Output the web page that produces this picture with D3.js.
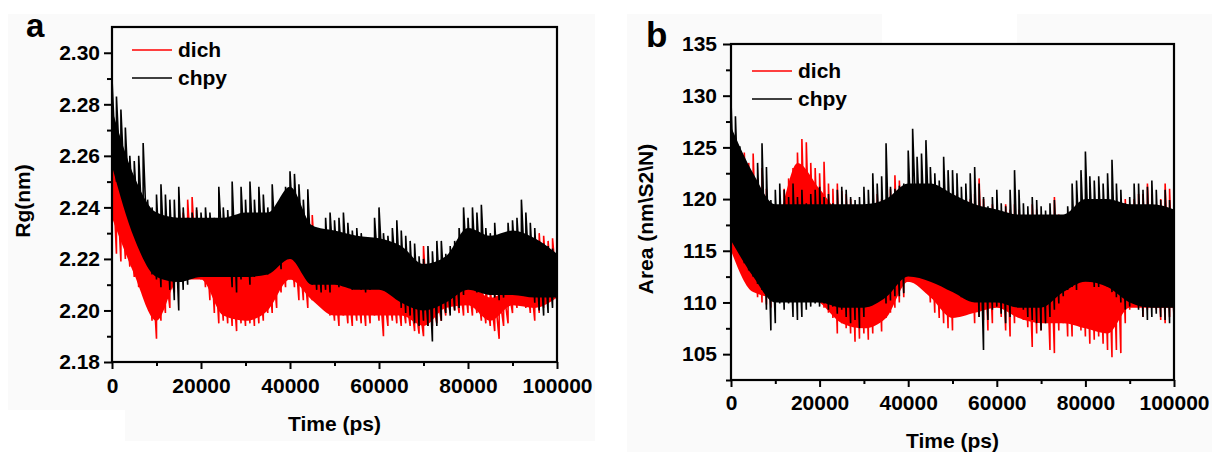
<!DOCTYPE html>
<html>
<head>
<meta charset="utf-8">
<script src="https://cdn.jsdelivr.net/npm/d3@7"></script>
<style>
body{margin:0;background:#fff;}
svg text{font-family:"Liberation Sans",Arial,sans-serif;font-weight:bold;fill:#000;}
</style>
</head>
<body>
<svg id="chart" width="1212" height="452"></svg>
<script>
// time axis: spike readings every 1000 ps, solid-core readings every 5000 ps
const timePs = d3.range(0, 100001, 1000);
const coreTimePs = d3.range(0, 100001, 5000);
const timeTicks = [0, 20000, 40000, 60000, 80000, 100000];
const timeMinor = [10000, 30000, 50000, 70000, 90000];

// panel a: radius of gyration (nm), spike tops / bottoms per 1000 ps
const rgChpyHi = [2.290,2.283,2.278,2.271,2.260,2.258,2.260,2.265,2.243,2.240,
 2.245,2.249,2.245,2.243,2.243,2.248,2.240,2.236,2.238,2.240,
 2.238,2.240,2.238,2.236,2.248,2.240,2.239,2.250,2.235,2.248,
 2.243,2.250,2.243,2.248,2.245,2.240,2.249,2.236,2.235,2.248,
 2.254,2.253,2.249,2.243,2.247,2.233,2.232,2.230,2.236,2.238,
 2.235,2.236,2.238,2.234,2.231,2.232,2.230,2.226,2.227,2.236,
 2.240,2.230,2.229,2.232,2.235,2.231,2.229,2.227,2.226,2.221,
 2.220,2.225,2.223,2.227,2.227,2.222,2.225,2.227,2.232,2.240,
 2.236,2.240,2.238,2.241,2.232,2.230,2.234,2.227,2.229,2.234,
 2.235,2.236,2.243,2.238,2.234,2.232,2.227,2.226,2.225,2.224,
 2.223];
const rgChpyLo = [2.255,2.250,2.247,2.240,2.235,2.230,2.227,2.225,2.220,2.214,
 2.212,2.209,2.212,2.208,2.204,2.200,2.208,2.210,2.213,2.214,
 2.213,2.214,2.216,2.214,2.213,2.216,2.214,2.209,2.207,2.212,
 2.214,2.210,2.213,2.214,2.217,2.214,2.216,2.217,2.216,2.220,
 2.225,2.222,2.220,2.217,2.213,2.210,2.208,2.207,2.208,2.207,
 2.211,2.209,2.211,2.210,2.208,2.210,2.208,2.207,2.208,2.210,
 2.211,2.208,2.207,2.208,2.210,2.201,2.199,2.198,2.195,2.194,
 2.196,2.194,2.188,2.194,2.196,2.199,2.198,2.200,2.201,2.206,
 2.209,2.208,2.207,2.208,2.207,2.206,2.205,2.204,2.205,2.206,
 2.207,2.209,2.209,2.208,2.206,2.203,2.200,2.198,2.199,2.201,
 2.203];
const rgDichHi = [2.261,2.254,2.250,2.243,2.236,2.235,2.232,2.232,2.225,2.220,
 2.217,2.220,2.217,2.214,2.217,2.227,2.238,2.243,2.244,2.239,
 2.236,2.232,2.230,2.225,2.222,2.220,2.220,2.217,2.220,2.218,
 2.221,2.220,2.218,2.217,2.220,2.222,2.221,2.220,2.225,2.227,
 2.230,2.227,2.225,2.222,2.220,2.237,2.225,2.220,2.217,2.214,
 2.214,2.216,2.214,2.213,2.212,2.213,2.214,2.212,2.213,2.214,
 2.214,2.209,2.210,2.212,2.209,2.208,2.207,2.207,2.205,2.204,
 2.225,2.204,2.204,2.207,2.208,2.209,2.212,2.212,2.214,2.216,
 2.214,2.213,2.212,2.212,2.209,2.208,2.207,2.207,2.208,2.210,
 2.214,2.217,2.220,2.217,2.214,2.225,2.230,2.229,2.227,2.228,
 2.226];
const rgDichLo = [2.240,2.222,2.219,2.220,2.217,2.213,2.209,2.207,2.204,2.196,
 2.189,2.196,2.199,2.201,2.207,2.212,2.214,2.217,2.214,2.213,
 2.212,2.209,2.204,2.199,2.195,2.196,2.195,2.194,2.192,2.195,
 2.194,2.195,2.194,2.195,2.196,2.199,2.199,2.201,2.207,2.209,
 2.212,2.209,2.204,2.204,2.201,2.204,2.207,2.205,2.201,2.198,
 2.196,2.194,2.198,2.195,2.194,2.196,2.195,2.194,2.195,2.198,
 2.196,2.190,2.194,2.196,2.195,2.194,2.195,2.194,2.192,2.191,
 2.190,2.194,2.194,2.195,2.196,2.198,2.199,2.200,2.199,2.198,
 2.199,2.198,2.199,2.196,2.195,2.194,2.192,2.189,2.194,2.195,
 2.199,2.201,2.204,2.201,2.199,2.196,2.199,2.201,2.203,2.204,
 2.207];
// solid core of each band, per 5000 ps
const rgChpyCoreHi = [2.278,2.252,2.238,2.236,2.236,2.236,2.238,2.238,2.248,2.233,
 2.231,2.229,2.228,2.225,2.218,2.221,2.232,2.229,2.231,2.228,2.222];
const rgChpyCoreLo = [2.256,2.228,2.213,2.211,2.213,2.213,2.213,2.214,2.220,2.210,
 2.210,2.208,2.208,2.203,2.200,2.203,2.208,2.206,2.206,2.205,2.205];
const rgDichCoreHi = [2.258,2.232,2.215,2.225,2.232,2.218,2.217,2.218,2.225,2.222,
 2.212,2.210,2.210,2.205,2.205,2.207,2.210,2.205,2.210,2.218,2.222];
const rgDichCoreLo = [2.236,2.214,2.196,2.212,2.212,2.198,2.196,2.200,2.212,2.204,
 2.198,2.198,2.198,2.198,2.194,2.201,2.202,2.196,2.202,2.201,2.205];
const rgTicks = [2.18, 2.20, 2.22, 2.24, 2.26, 2.28, 2.30];
const rgMinor = [2.19, 2.21, 2.23, 2.25, 2.27, 2.29];

// panel b: area (nm^2)
const areaChpyHi = [129.5,128.0,125.1,123.5,122.0,121.8,123.5,125.4,123.1,119.9,
 120.9,121.5,120.9,120.2,121.5,120.2,120.9,119.6,120.5,120.9,
 121.2,120.2,120.5,119.6,120.9,121.2,120.9,120.2,119.9,120.2,
 121.2,120.9,122.5,121.5,122.2,125.4,121.2,121.0,121.3,121.5,
 124.7,126.8,124.1,124.4,125.7,123.1,122.5,121.8,124.1,122.8,
 122.8,122.5,121.2,121.5,122.5,123.1,121.5,120.2,119.3,120.2,
 120.9,119.6,119.3,120.9,122.8,120.9,119.6,119.3,120.2,119.9,
 119.3,118.9,119.6,119.9,118.3,118.0,119.3,121.5,121.8,122.8,
 124.6,122.2,121.8,122.2,121.5,122.5,123.8,121.5,120.9,119.6,
 120.2,121.5,121.5,120.9,121.2,121.8,120.9,119.9,120.9,119.9,
 119.6];
const areaChpyLo = [116.5,116.0,115.1,113.8,113.1,112.5,111.8,111.2,109.3,107.3,
 108.0,109.9,109.3,109.9,108.6,108.3,108.6,109.3,109.6,109.9,
 109.6,109.9,109.3,109.6,108.9,109.3,108.6,108.0,108.3,107.5,
 108.6,109.9,110.6,110.2,110.6,109.9,110.2,110.6,110.6,110.9,
 113.0,114.0,114.5,114.0,113.5,113.5,113.0,112.5,112.0,112.0,
 112.0,111.0,110.5,111.0,111.2,110.8,108.6,105.4,108.3,109.3,
 109.6,108.9,108.0,108.6,109.9,109.6,109.3,108.6,108.3,108.0,
 107.3,108.0,108.6,109.3,109.9,110.6,111.2,111.5,111.2,112.0,
 112.5,112.0,111.5,111.5,112.0,111.5,111.0,110.5,110.0,109.3,
 109.6,109.9,109.3,108.6,108.3,108.6,108.9,108.6,108.3,108.0,
 108.6];
const areaDichHi = [125.0,125.0,124.8,124.5,123.5,124.4,122.0,123.0,121.0,118.6,
 118.0,119.0,121.0,122.0,123.0,124.5,125.8,125.5,123.5,123.0,
 122.5,123.6,121.5,121.0,121.5,120.8,120.5,120.0,119.5,119.0,
 119.5,119.0,120.0,120.5,120.0,119.5,121.0,122.3,121.8,120.0,
 119.5,120.0,121.0,120.5,120.0,119.5,119.0,119.5,120.0,120.0,
 119.5,120.5,120.0,119.5,120.0,120.5,122.0,120.0,118.5,119.5,
 119.0,118.5,119.5,119.0,119.5,119.0,118.5,118.0,119.5,119.0,
 118.5,118.0,118.5,120.2,118.5,118.0,118.0,119.0,119.5,119.0,
 119.5,119.0,119.5,119.0,119.5,119.0,119.5,119.0,119.5,120.0,
 119.5,120.0,120.5,120.5,121.5,120.5,119.5,120.0,121.5,121.0,
 120.5];
const areaDichLo = [116.0,115.0,114.0,113.0,112.5,111.5,110.5,110.0,109.8,109.5,
 110.5,111.0,110.5,110.0,110.0,110.5,110.8,111.0,110.8,110.5,
 110.0,109.5,109.0,108.5,107.0,108.0,107.5,107.0,106.2,106.5,
 107.0,106.4,107.0,108.0,107.2,108.5,109.0,109.5,110.0,110.5,
 112.0,112.5,113.0,112.0,111.0,110.0,109.0,108.5,108.0,107.5,
 107.3,109.6,109.3,110.6,109.9,108.0,108.6,108.3,107.3,108.0,
 109.9,108.6,107.3,106.7,108.0,108.6,108.3,107.6,105.7,107.0,
 107.3,108.0,105.4,105.1,107.3,108.0,106.7,106.7,108.0,107.3,
 106.7,106.0,106.4,106.7,106.0,105.4,104.7,105.4,105.1,108.0,
 109.3,110.6,109.9,108.6,109.3,109.9,109.3,108.3,108.0,108.6,
 108.3];
const areaChpyCoreHi = [127.0,122.5,119.5,119.5,119.5,119.5,119.5,120.0,121.5,121.5,
 120.5,119.5,119.0,118.5,118.5,118.5,120.0,120.0,119.5,119.5,119.0];
const areaChpyCoreLo = [116.0,112.5,110.0,110.0,110.0,109.5,109.5,110.5,112.5,112.0,
 111.0,110.0,110.0,109.5,109.5,111.0,112.0,111.5,110.0,109.5,109.5];
const areaDichCoreHi = [123.0,121.0,118.0,123.5,121.0,118.5,118.0,118.0,119.0,118.5,
 118.0,118.0,117.5,117.5,117.0,117.0,118.0,118.0,118.5,119.0,119.0];
const areaDichCoreLo = [115.0,111.0,110.5,111.0,110.0,108.0,107.5,108.5,112.0,110.5,
 108.5,109.0,109.5,108.5,108.0,108.0,107.5,107.0,109.5,109.5,109.5];
const areaTicks = [105, 110, 115, 120, 125, 130, 135];
const areaMinor = [102.5, 107.5, 112.5, 117.5, 122.5, 127.5, 132.5];

const seriesNames = ['dich', 'chpy'];
const seriesColors = ['#ff0000', '#000000'];

const svg = d3.select('#chart');

// light grey paper patches behind the two panels
const paper = [[8,14,587,396],[125,410,470,31],[627,14,255,438],[882,44,135,408],[1017,14,195,438]];
svg.selectAll('rect.paper').data(paper).enter().append('rect')
  .attr('class','paper')
  .attr('x', d => d[0]).attr('y', d => d[1])
  .attr('width', d => d[2]).attr('height', d => d[3])
  .attr('fill', '#fafafa');

function drawPanel(p) {
  const x = d3.scaleLinear().domain([0, 100000]).range([p.left, p.right]);
  const y = d3.scaleLinear().domain(p.yDomain).range([p.bottom, p.top]);

  svg.append('clipPath').attr('id', 'clip-' + p.letter)
    .append('rect')
    .attr('x', p.left).attr('y', p.top)
    .attr('width', p.right - p.left).attr('height', p.bottom - p.top);

  // solid core of the band, then a stroke running low -> high at every reading for the spikes
  const band = d3.area().x(d => x(d.t)).y0(d => y(d.lo)).y1(d => y(d.hi)).curve(d3.curveMonotoneX);
  const line = d3.line().x(d => x(d[0])).y(d => y(d[1]));
  const zig = (hi, lo) => timePs.flatMap((t, i) => [[t, lo[i]], [t, hi[i]]]);

  const traces = svg.append('g').attr('clip-path', 'url(#clip-' + p.letter + ')');
  p.series.forEach((s, i) => {
    traces.append('path')
      .attr('d', band(coreTimePs.map((t, k) => ({t: t, lo: s.coreLo[k], hi: s.coreHi[k]}))))
      .attr('fill', seriesColors[i]);
    traces.append('path')
      .attr('d', line(zig(s.hi, s.lo)))
      .attr('fill', 'none')
      .attr('stroke', seriesColors[i])
      .attr('stroke-width', 1.6);
  });

  // axes
  const yAxis = svg.append('g').attr('transform', 'translate(' + p.left + ',0)')
    .call(d3.axisLeft(y).tickValues(p.yTicks).tickSize(8).tickPadding(p.yPad).tickFormat(p.yFormat));
  svg.append('g').attr('transform', 'translate(' + p.left + ',0)')
    .call(d3.axisLeft(y).tickValues(p.yMinor).tickSize(5).tickFormat(''));
  const xAxis = svg.append('g').attr('transform', 'translate(0,' + p.bottom + ')')
    .call(d3.axisBottom(x).tickValues(timeTicks).tickSize(7).tickPadding(p.xPad).tickFormat(d3.format('d')));
  svg.append('g').attr('transform', 'translate(0,' + p.bottom + ')')
    .call(d3.axisBottom(x).tickValues(timeMinor).tickSize(4).tickFormat(''));

  svg.selectAll('.domain').remove();
  svg.selectAll('.tick line').attr('stroke', '#000').attr('stroke-width', 2);
  [yAxis, xAxis].forEach(a => a.selectAll('text')
    .style('font-size', '21px')
    .style('font-family', '"Liberation Sans",Arial,sans-serif')
    .style('font-weight', 'bold'));

  // frame
  svg.append('rect')
    .attr('x', p.left).attr('y', p.top)
    .attr('width', p.right - p.left).attr('height', p.bottom - p.top)
    .attr('fill', 'none').attr('stroke', '#000').attr('stroke-width', 2.2);

  // titles
  svg.append('text')
    .attr('x', (p.left + p.right) / 2).attr('y', p.xTitleY)
    .attr('text-anchor', 'middle').style('font-size', '21px')
    .text('Time (ps)');
  svg.append('text')
    .attr('transform', 'translate(' + p.yTitleX + ',' + p.yTitleY + ') rotate(-90)')
    .attr('text-anchor', 'middle').style('font-size', '21px')
    .text(p.yTitle);
  svg.append('text')
    .attr('x', p.letterX).attr('y', p.letterY)
    .style('font-size', p.letterSize)
    .text(p.letter);

  // legend
  seriesNames.forEach((name, i) => {
    const ly = p.legendY + i * 28;
    svg.append('line')
      .attr('x1', p.legendX).attr('x2', p.legendX + 40)
      .attr('y1', ly).attr('y2', ly)
      .attr('stroke', seriesColors[i]).attr('stroke-width', 1.6);
    svg.append('text')
      .attr('x', p.legendX + 46).attr('y', ly + 7)
      .style('font-size', '21px')
      .text(name);
  });
}

drawPanel({
  letter: 'a', letterX: 26, letterY: 37, letterSize: '33px',
  left: 112, right: 557, top: 27, bottom: 362,
  yDomain: [2.18, 2.31], yTicks: rgTicks, yMinor: rgMinor, yFormat: d3.format('.2f'),
  yPad: 4, xPad: 9,
  yTitle: 'Rg(nm)', yTitleX: 30, yTitleY: 201, xTitleY: 431,
  legendX: 132, legendY: 50,
  series: [
    {hi: rgDichHi, lo: rgDichLo, coreHi: rgDichCoreHi, coreLo: rgDichCoreLo},
    {hi: rgChpyHi, lo: rgChpyLo, coreHi: rgChpyCoreHi, coreLo: rgChpyCoreLo}
  ]
});

drawPanel({
  letter: 'b', letterX: 646, letterY: 47, letterSize: '35px',
  left: 731, right: 1174, top: 44, bottom: 380,
  yDomain: [102.5, 135], yTicks: areaTicks, yMinor: areaMinor, yFormat: d3.format('d'),
  yPad: 6, xPad: 8,
  yTitle: 'Area (nm\\S2\\N)', yTitleX: 653, yTitleY: 219, xTitleY: 448,
  legendX: 752, legendY: 71,
  series: [
    {hi: areaDichHi, lo: areaDichLo, coreHi: areaDichCoreHi, coreLo: areaDichCoreLo},
    {hi: areaChpyHi, lo: areaChpyLo, coreHi: areaChpyCoreHi, coreLo: areaChpyCoreLo}
  ]
});
</script>
</body>
</html>
